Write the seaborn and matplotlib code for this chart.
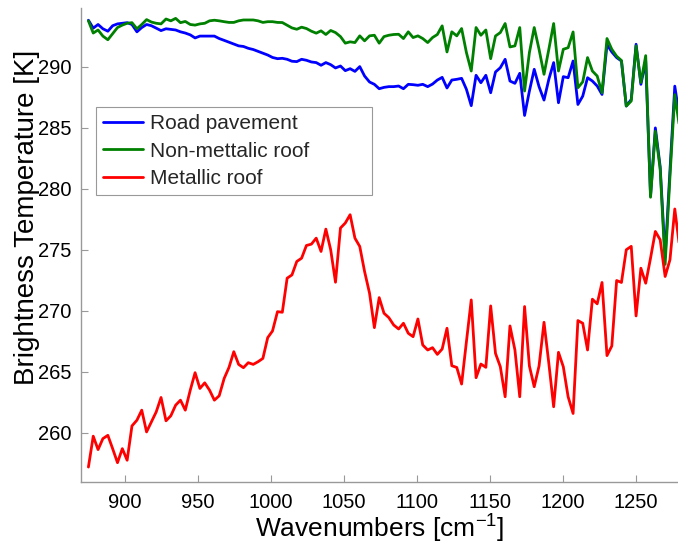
import numpy as np
import pandas as pd
import seaborn as sns
import matplotlib
matplotlib.use("Agg")
import matplotlib.pyplot as plt

# wavenumbers [cm-1]
wavenumber = [875.2, 878.5, 881.8, 885.1, 888.5, 891.8, 895.1, 898.4, 901.7, 905.0,
              908.4, 911.7, 915.0, 918.3, 921.6, 924.9, 928.3, 931.6, 934.9, 938.2,
              941.5, 944.9, 948.2, 951.5, 954.8, 958.1, 961.4, 964.7, 968.1, 971.4,
              974.7, 978.0, 981.3, 984.6, 988.0, 991.3, 994.6, 997.9, 1001.2, 1004.6,
              1007.9, 1011.2, 1014.5, 1017.8, 1021.1, 1024.4, 1027.8, 1031.1, 1034.4, 1037.7,
              1041.0, 1044.3, 1047.7, 1051.0, 1054.3, 1057.6, 1060.9, 1064.2, 1067.6, 1070.9,
              1074.2, 1077.5, 1080.8, 1084.1, 1087.5, 1090.8, 1094.1, 1097.4, 1100.7, 1104.0,
              1107.4, 1110.7, 1114.0, 1117.3, 1120.6, 1123.9, 1127.3, 1130.6, 1133.9, 1137.2,
              1140.5, 1143.8, 1147.2, 1150.5, 1153.8, 1157.1, 1160.4, 1163.7, 1167.1, 1170.4,
              1173.7, 1177.0, 1180.3, 1183.6, 1187.0, 1190.3, 1193.6, 1196.9, 1200.2, 1203.5,
              1206.9, 1210.2, 1213.5, 1216.8, 1220.1, 1223.4, 1226.7, 1230.1, 1233.4, 1236.7,
              1240.0, 1243.3, 1246.7, 1250.0, 1253.3, 1256.6, 1259.9, 1263.2, 1266.5, 1269.9,
              1273.2, 1276.5, 1279.8]

road = [293.8, 293.15, 293.45, 293.1, 292.9, 293.35, 293.5, 293.55, 293.6, 293.45,
        292.85, 293.2, 293.45, 293.35, 293.15, 292.95, 293.1, 293.05, 293.0, 292.85,
        292.75, 292.6, 292.35, 292.5, 292.5, 292.5, 292.5, 292.3, 292.15, 292.0,
        291.85, 291.7, 291.65, 291.5, 291.4, 291.25, 291.1, 290.95, 290.75, 290.65,
        290.68, 290.6, 290.44, 290.41, 290.6, 290.52, 290.38, 290.33, 290.11, 290.33,
        290.16, 289.89, 290.05, 289.67, 289.83, 289.61, 290.0, 289.23, 288.74, 288.55,
        288.19, 288.3, 288.36, 288.36, 288.41, 288.19, 288.55, 288.52, 288.47, 288.55,
        288.36, 288.57, 288.9, 289.12, 288.25, 288.9, 288.96, 289.04, 288.14, 286.8,
        289.29, 288.68, 289.29, 287.86, 289.56, 289.91, 290.6, 288.82, 288.63, 289.45,
        286.0, 288.0, 289.78, 288.36, 287.26, 288.96, 290.33, 287.04, 289.18, 289.09,
        290.46, 286.9, 287.58, 289.09, 288.82, 288.41, 287.72, 291.8, 291.2, 290.74,
        290.46, 286.77, 287.31, 291.83, 288.55, 290.46, 279.4, 284.98, 281.8, 274.4,
        281.5, 288.4, 285.8]

nonmetal = [293.75, 292.75, 293.0, 292.5, 292.2, 292.7, 293.2, 293.4, 293.55, 293.6,
            293.1, 293.45, 293.85, 293.65, 293.55, 293.5, 293.9, 293.75, 293.95, 293.6,
            293.7, 293.45, 293.4, 293.5, 293.55, 293.75, 293.8, 293.75, 293.68, 293.62,
            293.62, 293.75, 293.82, 293.82, 293.82, 293.75, 293.62, 293.68, 293.68, 293.62,
            293.61, 293.39, 293.17, 293.06, 293.23, 293.12, 292.9, 292.74, 292.93, 292.63,
            292.96, 292.79, 292.46, 291.92, 292.03, 291.97, 292.52, 292.11, 292.52, 292.57,
            291.92, 292.46, 292.57, 292.63, 292.65, 292.3, 292.85, 292.38, 292.52, 292.3,
            291.97, 292.38, 292.63, 293.34, 291.2, 292.85, 292.52, 293.12, 291.15, 289.64,
            293.2, 292.57, 293.0, 290.65, 292.51, 292.79, 293.53, 291.61, 291.7, 293.2,
            288.0, 291.15, 293.2, 291.42, 289.37, 291.42, 293.53, 289.64, 291.42, 291.55,
            292.84, 288.27, 288.75, 290.74, 289.64, 289.23, 287.85, 292.3, 291.42, 290.85,
            290.5, 286.77, 287.18, 291.7, 288.7, 290.9, 279.3, 284.7, 281.6, 273.8,
            281.0, 287.7, 285.0]

metal = [257.2, 259.73, 258.63, 259.53, 259.8, 258.7, 257.56, 258.71, 257.76, 260.57,
         261.04, 261.86, 260.08, 260.9, 261.72, 262.9, 260.99, 261.4, 262.27, 262.68,
         261.86, 263.5, 264.93, 263.64, 264.1, 263.5, 262.68, 263.04, 264.46, 265.36,
         266.65, 265.61, 265.34, 265.75, 265.61, 265.83, 266.1, 267.8, 268.35, 269.93,
         269.88, 272.67, 272.94, 274.04, 274.31, 275.35, 275.46, 275.95, 274.86, 276.69,
         275.0, 272.34, 276.78, 277.19, 277.87, 275.95, 275.27, 273.22, 271.44, 268.62,
         271.08, 269.8, 269.44, 268.84, 268.51, 268.98, 268.16, 267.88, 269.33, 267.2,
         266.79, 266.98, 266.43, 266.87, 268.57, 265.5, 265.36, 264.0, 267.47, 270.89,
         264.52, 265.64, 265.37, 270.4, 266.51, 265.42, 262.96, 268.76, 266.79, 262.96,
         270.35, 265.48, 263.78, 265.48, 269.06, 265.7, 262.14, 266.6, 265.42, 262.96,
         261.59, 269.2, 268.98, 266.79, 270.95, 270.57, 272.32, 266.33, 267.12, 272.48,
         272.32, 275.0, 275.28, 269.58, 273.49, 272.26, 274.31, 276.5, 275.82, 272.81,
         274.18, 278.34, 275.2]

labels = ["Road pavement", "Non-mettalic roof", "Metallic roof"]
colors = ["#0000FF", "#008000", "#FF0000"]
xticks = [900, 950, 1000, 1050, 1100, 1150, 1200, 1250]
yticks = [260, 265, 270, 275, 280, 285, 290]

sns.set_style("white")
plt.rcParams['font.family'] = ['Liberation Sans', 'DejaVu Sans']
plt.rcParams['mathtext.fontset'] = 'custom'
plt.rcParams['mathtext.rm'] = 'Liberation Sans'
plt.rcParams['mathtext.it'] = 'Liberation Sans'

fig = plt.figure(figsize=(6.78, 5.45), dpi=100)
ax = fig.add_axes([0.1192, 0.1161, 0.8808, 0.8692])

for vals, lab, col in zip([road, nonmetal, metal], labels, colors):
    sns.lineplot(x=wavenumber, y=vals, color=col, lw=2.0, label=lab, ax=ax)

ax.set_xlim(870, 1278.7)
ax.set_ylim(256, 294.8)
ax.set_xticks(xticks)
ax.set_yticks(yticks)

for s in ["top", "right"]:
    ax.spines[s].set_visible(False)
for s in ["left", "bottom"]:
    ax.spines[s].set_color("#999999")
    ax.spines[s].set_linewidth(1.0)

ax.tick_params(bottom=True, left=True, top=False, right=False,
               direction="in", length=5, width=0.8, color="#999999",
               labelcolor="black", labelsize=14.5)
ax.tick_params(axis="x", pad=8)
ax.tick_params(axis="y", pad=7)

ax.set_xlabel(r"Wavenumbers [cm$^{-1}$]", fontsize=19, color="black", labelpad=1)
ax.set_ylabel("Brightness Temperature [K]", fontsize=20, color="black")
ax.yaxis.set_label_coords(-0.068, 0.557)

leg = ax.legend(loc="upper left", bbox_to_anchor=(0.0255, 0.0, 0.462, 0.791),
                mode="expand", fontsize=15, frameon=True, fancybox=False,
                framealpha=1, edgecolor="#999999", borderpad=0.35,
                handlelength=1.9, handletextpad=0.35, labelspacing=0.4,
                borderaxespad=0)
leg.get_frame().set_linewidth(0.8)

fig.savefig("out.png", dpi=100)
